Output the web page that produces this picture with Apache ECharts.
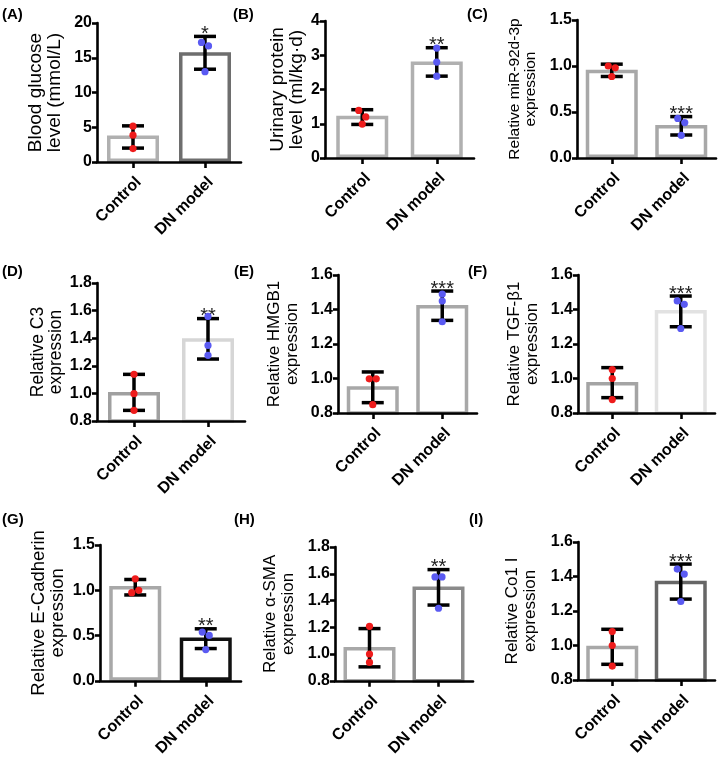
<!DOCTYPE html>
<html><head><meta charset="utf-8">
<script src="https://cdn.jsdelivr.net/npm/echarts@6/dist/echarts.min.js"></script>
<style>html,body{margin:0;padding:0;background:#fff}#c{width:720px;height:759px}</style>
</head><body><div id="c"></div>
<script>
// ---- data ----
const categories = ['Control', 'DN model'];
const panelLabels = ['(A)', '(B)', '(C)', '(D)', '(E)', '(F)', '(G)', '(H)', '(I)'];
const yTitles = [
  'Blood glucose\nlevel (mmol/L)',
  'Urinary protein\nlevel (ml/kg·d)',
  'Relative miR-92d-3p\nexpression',
  'Relative C3\nexpression',
  'Relative HMGB1\nexpression',
  'Relative TGF-β1\nexpression',
  'Relative E-Cadherin\nexpression',
  'Relative α-SMA\nexpression',
  'Relative Co1 I\nexpression'
];
const yMin = [0, 0, 0, 0.8, 0.8, 0.8, 0, 0.8, 0.8];
const yMax = [20, 4, 1.5, 1.8, 1.6, 1.6, 1.5, 1.8, 1.6];
const yStep = [5, 1, 0.5, 0.2, 0.2, 0.2, 0.5, 0.2, 0.2];
const yDecimals = [0, 0, 1, 1, 1, 1, 1, 1, 1];
const barMeans = [[3.8, 15.8], [1.23, 2.82], [0.96, 0.36], [1.01, 1.40], [0.955, 1.426], [0.98, 1.397], [1.046, 0.479], [1.053, 1.504], [0.998, 1.375]];
const errLow = [[2.0, 13.35], [0.98, 2.39], [0.886, 0.25], [0.877, 1.249], [0.86, 1.337], [0.889, 1.30], [0.948, 0.356], [0.904, 1.366], [0.891, 1.269]];
const errHigh = [[5.2, 18.07], [1.41, 3.22], [1.02, 0.45], [1.138, 1.542], [1.038, 1.507], [1.063, 1.478], [1.119, 0.574], [1.19, 1.631], [1.094, 1.472]];
const controlDots = [[5.16, 3.86, 1.93], [1.39, 1.2, 0.99], [1.0, 0.98, 0.886], [1.138, 0.998, 0.877], [0.998, 0.998, 0.848], [1.052, 1.0, 0.878], [1.126, 0.973, 0.999], [1.207, 1.0, 0.937], [1.081, 1.0, 0.881]];
const modelDots = [[17.2, 16.7, 13.0], [3.21, 2.80, 2.39], [0.43, 0.385, 0.247], [1.558, 1.348, 1.276], [1.49, 1.449, 1.329], [1.45, 1.43, 1.29], [0.538, 0.501, 0.345], [1.576, 1.576, 1.342], [1.443, 1.414, 1.255]];
const stars = ['*', '**', '***', '**', '***', '***', '**', '**', '***'];

// ---- layout & styles ----
const gridBoxes = [
  {left: 97, top: 23, width: 144, height: 139},
  {left: 325, top: 21, width: 149, height: 137},
  {left: 577, top: 20, width: 139, height: 138},
  {left: 97, top: 283, width: 148, height: 138},
  {left: 338, top: 275, width: 139, height: 138},
  {left: 578, top: 275, width: 137, height: 138},
  {left: 100, top: 545, width: 141, height: 138},
  {left: 335, top: 547, width: 138, height: 138},
  {left: 578, top: 542, width: 137, height: 138}
];
const nameGaps = [32, 18, 38, 32, 37, 37, 33, 38, 39];
const nameSizes = [19, 19, 15.5, 17.5, 17, 17, 18.5, 17, 17];
const labelPos = [[2, 7], [233, 7], [467, 7], [2, 264], [234, 264], [468, 264], [2, 512], [234, 512], [469, 512]];
const barBorders = [
  ['#b0b0b0', '#6e6e6e'], ['#b0b0b0', '#b0b0b0'], ['#a8a8a8', '#a8a8a8'],
  ['#a0a0a0', '#d6d6d6'], ['#a8a8a8', '#a8a8a8'], ['#a4a4a4', '#e2e2e2'],
  ['#a8a8a8', '#111111'], ['#a8a8a8', '#8a8a8a'], ['#a8a8a8', '#666666']
];
const FONT = 'Liberation Sans, Arial, Helvetica, sans-serif';
const dotColors = ['#ee1c1c', '#5a5af2'];

const chart = echarts.init(document.getElementById('c'), null, {renderer: 'canvas'});

const grids = [], xAxes = [], yAxes = [], series = [], graphics = [];

function makeErrRender(p) {
  return function (params, api) {
    const x = api.value(0);
    const lo = api.coord([x, api.value(1)]);
    const hi = api.coord([x, api.value(2)]);
    const cap = 11;
    const st = {stroke: '#000', lineWidth: 3.5};
    const children = [
      {type: 'line', shape: {x1: lo[0], y1: lo[1], x2: hi[0], y2: hi[1]}, style: st},
      {type: 'line', shape: {x1: lo[0] - cap, y1: lo[1], x2: lo[0] + cap, y2: lo[1]}, style: st},
      {type: 'line', shape: {x1: hi[0] - cap, y1: hi[1], x2: hi[0] + cap, y2: hi[1]}, style: st}
    ];
    if (params.dataIndex === 1) {
      children.push({
        type: 'text',
        style: {
          text: stars[p], x: hi[0], y: hi[1] + 8,
          align: 'center', verticalAlign: 'bottom',
          fill: '#222', font: '20px ' + FONT
        }
      });
    }
    return {type: 'group', children: children};
  };
}

function dotsRender(params, api) {
  const x = api.value(0);
  const pts = [1, 2, 3].map(function (k) { return api.coord([x, api.value(k)]); });
  const offs = [0, 0, 0];
  for (let i = 0; i < 3; i++) {
    for (let j = i + 1; j < 3; j++) {
      if (Math.abs(pts[i][1] - pts[j][1]) < 7) { offs[i] = -3.5; offs[j] = 3.5; }
    }
  }
  const color = dotColors[params.dataIndex];
  return {
    type: 'group',
    children: pts.map(function (pt, i) {
      return {type: 'circle', shape: {cx: pt[0] + offs[i], cy: pt[1], r: 3.6}, style: {fill: color}};
    })
  };
}

for (let p = 0; p < 9; p++) {
  grids.push(Object.assign({containLabel: false}, gridBoxes[p]));
  xAxes.push({
    type: 'category', gridIndex: p, data: categories, z: 10,
    axisLine: {show: true, lineStyle: {color: '#000', width: 2.6}},
    axisTick: {show: true, alignWithLabel: true, length: 6, lineStyle: {color: '#000', width: 2.6}},
    axisLabel: {interval: 0, rotate: 45, margin: 12, verticalAlign: 'top', color: '#000',
      fontWeight: 'bold', fontSize: 16, fontFamily: FONT},
    splitLine: {show: false}
  });
  const dec = yDecimals[p];
  yAxes.push({
    type: 'value', gridIndex: p, min: yMin[p], max: yMax[p], interval: yStep[p], z: 10,
    name: yTitles[p], nameLocation: 'middle', nameGap: nameGaps[p], nameRotate: 90,
    nameTextStyle: {color: '#000', fontSize: nameSizes[p], fontFamily: FONT, lineHeight: nameSizes[p] + 0.5},
    axisLine: {show: true, lineStyle: {color: '#000', width: 2.6}},
    axisTick: {show: true, length: 5, lineStyle: {color: '#000', width: 2.6}},
    axisLabel: {margin: 5, color: '#000', fontWeight: 'bold', fontSize: 16, fontFamily: FONT,
      formatter: function (v) { return Number(v).toFixed(dec); }},
    splitLine: {show: false}
  });
  series.push({
    type: 'bar', xAxisIndex: p, yAxisIndex: p, barWidth: 52, z: 2,
    data: barMeans[p].map(function (v, i) {
      return {value: v, itemStyle: {color: '#fff', borderColor: barBorders[p][i], borderWidth: 3.5}};
    })
  });
  series.push({
    type: 'custom', xAxisIndex: p, yAxisIndex: p, z: 5,
    renderItem: makeErrRender(p),
    encode: {x: 0, y: [1, 2]},
    data: [0, 1].map(function (i) { return [i, errLow[p][i], errHigh[p][i]]; })
  });
  series.push({
    type: 'custom', xAxisIndex: p, yAxisIndex: p, z: 6,
    renderItem: dotsRender,
    encode: {x: 0, y: [1, 2, 3]},
    data: [[0].concat(controlDots[p]), [1].concat(modelDots[p])]
  });
  graphics.push({
    type: 'text', left: labelPos[p][0], top: labelPos[p][1],
    style: {text: panelLabels[p], fill: '#000', font: 'bold 15px ' + FONT}
  });
}

chart.setOption({
  animation: false,
  backgroundColor: '#fff',
  grid: grids, xAxis: xAxes, yAxis: yAxes, series: series, graphic: graphics
});
</script></body></html>
